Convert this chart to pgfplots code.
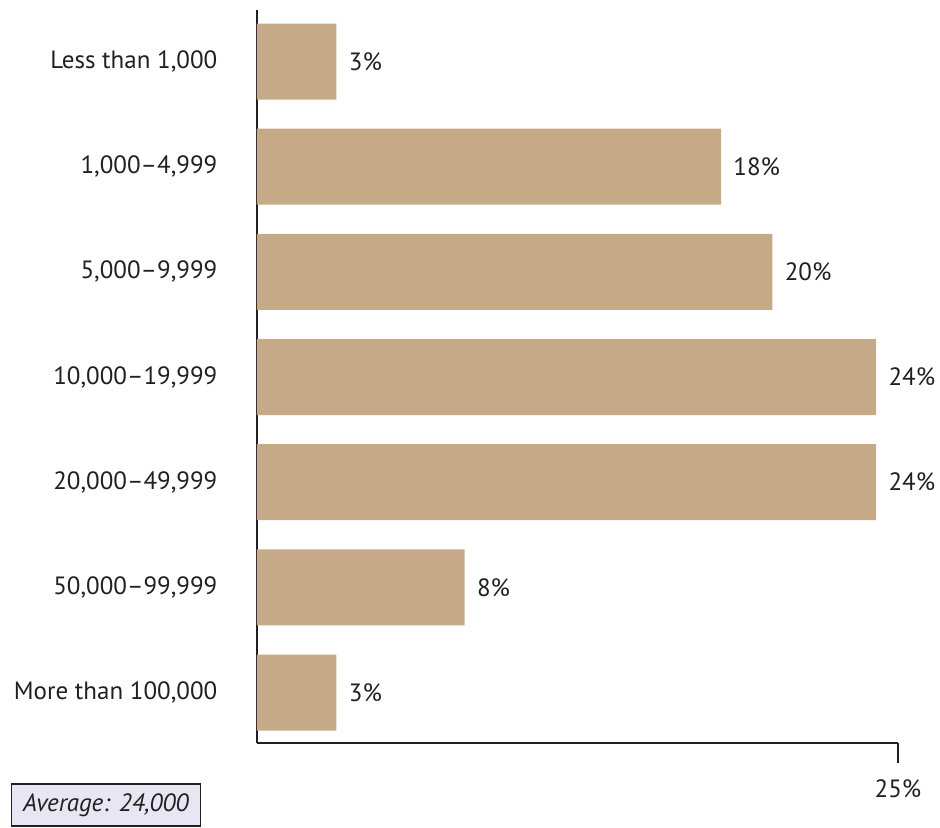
\documentclass[border=0pt]{standalone}
\usepackage{pgfplots}
\pgfplotsset{compat=1.18}
\usepackage{fontspec}
\setmainfont{PT Sans}
\definecolor{barc}{HTML}{C6A987}
\definecolor{ink}{HTML}{231F20}
\definecolor{boxfill}{HTML}{E6E7F3}
\begin{document}
\fontsize{12.5}{15}\selectfont
\begin{tikzpicture}
\path[use as bounding box] (-128.5pt,-42pt) rectangle (341.5pt,371.5pt);
\begin{axis}[
  at={(0pt,0pt)}, anchor=south west,
  scale only axis, width=320.5pt, height=366.5pt,
  xbar, bar width=38pt, bar shift=0pt,
  xmin=0, xmax=25, ymin=-0.48, ymax=6.49,
  axis x line=bottom, axis y line=left,
  axis line style={-, draw=ink, line width=1pt},
  xtick={25}, xticklabels={25\%},
  tick align=outside, major tick length=10pt,
  x tick style={draw=ink, line width=1pt},
  y tick style={draw=none},
  ytick={0,1,2,3,4,5,6},
  yticklabels={More than 100{,}000, 50{,}000--99{,}999, 20{,}000--49{,}999, 10{,}000--19{,}999, 5{,}000--9{,}999, 1{,}000--4{,}999, Less than 1{,}000},
  yticklabel style={font=\fontsize{12.5}{15}\selectfont, text=ink, anchor=east, xshift=-5.5pt},
  xticklabel style={font=\fontsize{12.5}{15}\selectfont, text=ink, yshift=-4pt},
  nodes near coords={\pgfplotspointmeta\%},
  point meta=explicit symbolic,
  nodes near coords style={font=\fontsize{12.5}{15}\selectfont, text=ink, anchor=west, inner sep=0pt, xshift=6pt},
  clip=false,
]
\addplot[draw=none, fill=barc] coordinates {
  (3.1,6) [3]
  (18.1,5) [18]
  (20.1,4) [20]
  (24.15,3) [24]
  (24.15,2) [24]
  (8.1,1) [8]
  (3.1,0) [3]
};
\end{axis}
\node[draw=ink, fill=boxfill, line width=0.6pt, minimum width=94.5pt, minimum height=21pt, inner sep=0pt, text=ink, font=\fontsize{12.5}{15}\selectfont\itshape] at (-75.5pt,-31pt) {Average: 24,000};
\end{tikzpicture}
\end{document}
